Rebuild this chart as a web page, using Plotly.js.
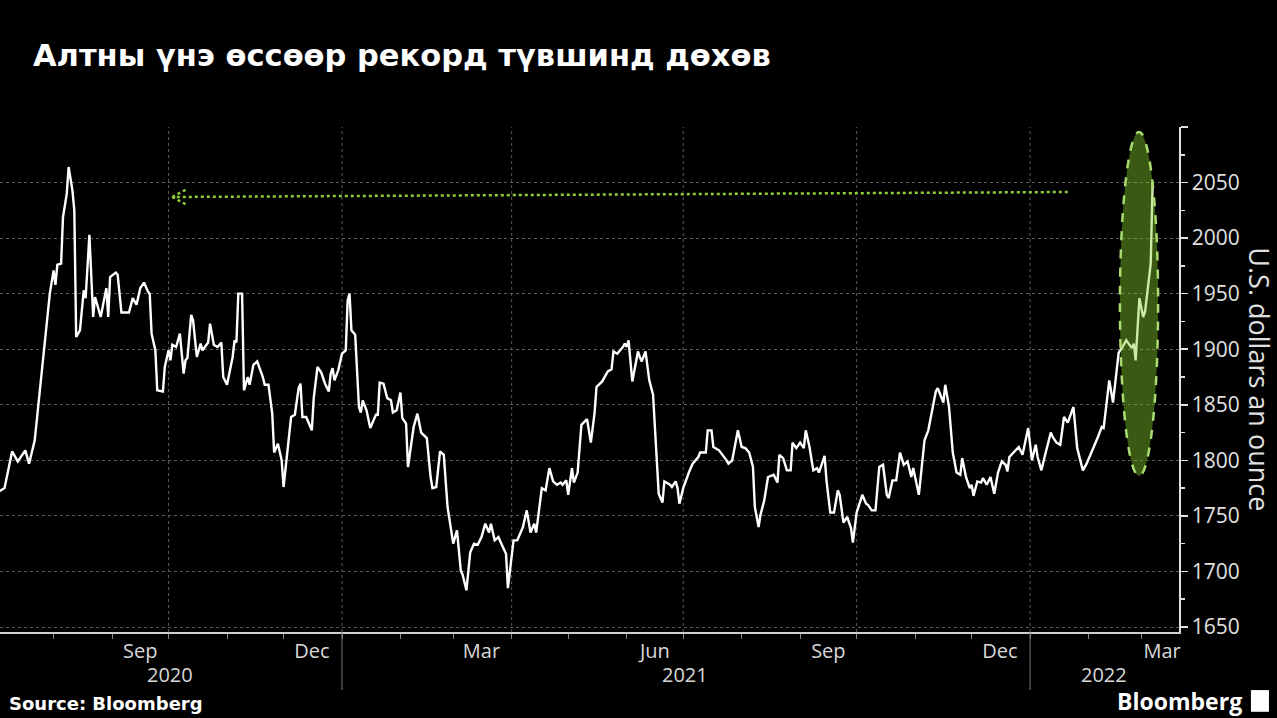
<!DOCTYPE html>
<html>
<head>
<meta charset="utf-8">
<script src="https://cdn.plot.ly/plotly-3.0.1.min.js"></script>
<style>
html,body{margin:0;padding:0;background:#000;}
#chart{width:1277px;height:718px;}
</style>
</head>
<body>
<div id="chart"></div>
<script>
// ---- Data ----
const dates = [
"2020-07-03","2020-07-06","2020-07-10","2020-07-13","2020-07-17","2020-07-19","2020-07-22","2020-07-25","2020-07-27","2020-07-30",
"2020-08-01","2020-08-02","2020-08-03","2020-08-05","2020-08-06","2020-08-08","2020-08-09","2020-08-11","2020-08-12","2020-08-13",
"2020-08-15","2020-08-17","2020-08-18","2020-08-19","2020-08-20","2020-08-22","2020-08-23","2020-08-26","2020-08-29","2020-08-30",
"2020-08-31","2020-09-03","2020-09-04","2020-09-06","2020-09-08","2020-09-10","2020-09-12","2020-09-14","2020-09-16","2020-09-18",
"2020-09-20","2020-09-21","2020-09-22","2020-09-24","2020-09-25","2020-09-28","2020-09-29","2020-10-01","2020-10-02","2020-10-03",
"2020-10-05","2020-10-07","2020-10-09","2020-10-10","2020-10-11","2020-10-13","2020-10-14","2020-10-16","2020-10-18","2020-10-19",
"2020-10-22","2020-10-23","2020-10-25","2020-10-27","2020-10-29","2020-10-30","2020-11-01","2020-11-04","2020-11-05","2020-11-06",
"2020-11-07","2020-11-09","2020-11-10","2020-11-12","2020-11-13","2020-11-15","2020-11-17","2020-11-20","2020-11-21","2020-11-23",
"2020-11-25","2020-11-26","2020-11-28","2020-11-30","2020-12-01","2020-12-03","2020-12-05","2020-12-07","2020-12-09","2020-12-10",
"2020-12-11","2020-12-13","2020-12-16","2020-12-17","2020-12-19","2020-12-21","2020-12-23","2020-12-25","2020-12-26","2020-12-27",
"2020-12-28","2020-12-30",
"2021-01-01","2021-01-03","2021-01-04","2021-01-05","2021-01-06","2021-01-08","2021-01-10","2021-01-11","2021-01-12","2021-01-14",
"2021-01-16","2021-01-19","2021-01-20","2021-01-21","2021-01-23","2021-01-25","2021-01-27","2021-01-28","2021-01-30","2021-02-01",
"2021-02-02","2021-02-04","2021-02-05","2021-02-08","2021-02-10","2021-02-12","2021-02-15","2021-02-17","2021-02-18","2021-02-20",
"2021-02-22","2021-02-24","2021-02-26","2021-03-01","2021-03-03","2021-03-05","2021-03-06","2021-03-08","2021-03-10","2021-03-12",
"2021-03-14","2021-03-16","2021-03-18","2021-03-20","2021-03-21","2021-03-23","2021-03-25","2021-03-26","2021-03-29","2021-03-30",
"2021-04-02","2021-04-04","2021-04-07","2021-04-09","2021-04-11","2021-04-13","2021-04-14","2021-04-17","2021-04-19","2021-04-21",
"2021-04-23","2021-04-25","2021-04-27","2021-04-28","2021-04-30","2021-05-01","2021-05-03","2021-05-04","2021-05-06","2021-05-08",
"2021-05-10","2021-05-11","2021-05-13","2021-05-15","2021-05-16","2021-05-18","2021-05-19","2021-05-22","2021-05-24","2021-05-25",
"2021-05-27","2021-05-30","2021-05-31","2021-06-01","2021-06-02","2021-06-04","2021-06-07","2021-06-08","2021-06-09","2021-06-11",
"2021-06-13","2021-06-15","2021-06-17","2021-06-18","2021-06-20","2021-06-21","2021-06-24","2021-06-25","2021-06-27","2021-06-28",
"2021-06-29","2021-07-01","2021-07-04","2021-07-06","2021-07-09","2021-07-10","2021-07-13","2021-07-14","2021-07-16","2021-07-17",
"2021-07-20","2021-07-22","2021-07-24","2021-07-25","2021-07-27","2021-07-30","2021-08-01","2021-08-03","2021-08-05","2021-08-07",
"2021-08-08","2021-08-10","2021-08-11","2021-08-13","2021-08-15","2021-08-18","2021-08-20","2021-08-21","2021-08-23","2021-08-25",
"2021-08-27","2021-08-28","2021-08-30","2021-09-01","2021-09-03","2021-09-04","2021-09-06","2021-09-08","2021-09-10","2021-09-11",
"2021-09-14","2021-09-15","2021-09-17","2021-09-19","2021-09-21","2021-09-22","2021-09-24","2021-09-26","2021-09-28","2021-09-29",
"2021-10-01","2021-10-04","2021-10-06","2021-10-07","2021-10-09","2021-10-11","2021-10-13","2021-10-15","2021-10-17","2021-10-18",
"2021-10-20","2021-10-22","2021-10-24","2021-10-26","2021-10-28","2021-10-30","2021-10-31","2021-11-03","2021-11-05","2021-11-06",
"2021-11-08","2021-11-10","2021-11-12","2021-11-13","2021-11-16","2021-11-17","2021-11-19","2021-11-21","2021-11-23","2021-11-25",
"2021-11-26","2021-11-28","2021-11-30","2021-12-01","2021-12-02","2021-12-04","2021-12-06","2021-12-07","2021-12-09","2021-12-11",
"2021-12-13","2021-12-15","2021-12-17","2021-12-19","2021-12-20","2021-12-21","2021-12-22","2021-12-24","2021-12-26","2021-12-28",
"2021-12-29","2021-12-31",
"2022-01-02","2022-01-04","2022-01-05","2022-01-07","2022-01-09","2022-01-12","2022-01-13","2022-01-15","2022-01-17","2022-01-19",
"2022-01-21","2022-01-23","2022-01-24","2022-01-26","2022-01-29","2022-01-31","2022-02-02","2022-02-03","2022-02-06","2022-02-08",
"2022-02-09","2022-02-10","2022-02-12","2022-02-14","2022-02-16","2022-02-17","2022-02-19","2022-02-21","2022-02-24","2022-02-25",
"2022-02-26","2022-02-28","2022-03-02","2022-03-03","2022-03-06","2022-03-07"
];
const goldPrice = [
1772,1775,1808,1799,1809,1797,1818,1869,1899,1950,
1971,1958,1976,1977,2019,2040,2064,2043,2025,1911,
1917,1953,1946,1980,2003,1929,1947,1929,1955,1929,
1965,1969,1967,1933,1933,1933,1946,1940,1955,1960,
1952,1950,1914,1899,1863,1862,1884,1899,1890,1904,
1902,1914,1878,1890,1892,1931,1926,1893,1905,1899,
1906,1923,1904,1902,1906,1875,1868,1893,1908,1906,
1950,1950,1863,1875,1868,1886,1889,1875,1868,1868,
1842,1807,1815,1800,1776,1809,1839,1841,1865,1869,
1839,1839,1827,1856,1884,1879,1869,1862,1878,1883,
1872,1881,
1896,1899,1944,1950,1917,1913,1848,1843,1854,1845,
1829,1841,1841,1870,1869,1856,1854,1843,1845,1861,
1838,1833,1794,1830,1842,1825,1820,1785,1775,1776,
1808,1805,1758,1725,1737,1701,1697,1683,1717,1725,
1724,1731,1743,1735,1743,1728,1731,1727,1716,1685,
1728,1728,1740,1755,1735,1743,1735,1775,1773,1793,
1781,1778,1780,1778,1782,1769,1793,1780,1789,1832,
1836,1837,1816,1843,1866,1870,1871,1880,1882,1898,
1896,1902,1905,1902,1908,1871,1898,1893,1889,1898,
1872,1859,1803,1770,1762,1781,1778,1776,1781,1775,
1761,1775,1789,1797,1803,1807,1807,1827,1827,1812,
1809,1805,1800,1797,1800,1827,1812,1811,1807,1794,
1758,1740,1751,1764,1785,1787,1780,1805,1802,1791,
1791,1816,1811,1816,1811,1827,1812,1791,1793,1789,
1804,1782,1753,1753,1773,1769,1744,1749,1739,1726,
1753,1769,1761,1760,1755,1755,1794,1796,1769,1766,
1782,1782,1807,1796,1799,1785,1793,1769,1803,1818,
1827,1845,1862,1865,1852,1868,1848,1807,1789,1787,
1802,1785,1775,1778,1768,1781,1780,1784,1778,1785,
1770,1789,1799,1796,1790,1803,1805,1809,1812,1805,
1814,1829,
1800,1814,1803,1791,1805,1825,1821,1816,1814,1839,
1834,1843,1848,1811,1791,1797,1805,1808,1821,1830,
1829,1843,1872,1852,1881,1897,1902,1908,1901,1905,
1890,1946,1929,1934,1977,2050
];

// Axis / labels
const xRange = ["2020-07-03 14:00", "2022-03-21"];
const yRange = [1645.5, 2100];
const yTickVals = [1650,1700,1750,1800,1850,1900,1950,2000,2050,2100];
const yTickText = ["1650","1700","1750","1800","1850","1900","1950","2000","2050",""];
const monthLabelDates = ["2020-09-16","2020-12-16","2021-03-16","2021-06-16","2021-09-16","2021-12-16","2022-03-12"];
const monthLabels = ["Sep","Dec","Mar","Jun","Sep","Dec","Mar"];
const monthStarts = ["2020-08-01","2020-09-01","2020-10-01","2020-11-01","2020-12-01","2021-01-01","2021-02-01","2021-03-01",
  "2021-04-01","2021-05-01","2021-06-01","2021-07-01","2021-08-01","2021-09-01","2021-10-01","2021-11-01","2021-12-01",
  "2022-01-01","2022-02-01","2022-03-01"];
const quarterStarts = ["2020-10-01","2021-01-01","2021-04-01","2021-07-01","2021-10-01","2022-01-01"];
const yearStarts = ["2021-01-01","2022-01-01"];
const yearLabels = ["2020","2021","2022"];
const yearLabelDates = ["2020-10-02","2021-07-02","2022-02-09"];

// Highlight annotations (ellipse and arrow)
const ellipseX = ["2022-02-17 16:00","2022-03-09 22:00"];
const ellipseY = [1786, 2095.5];
const arrowFrom = {x: "2022-01-21", y: 2041.5};
const arrowTip = {x: "2020-10-03", y: 2037};
const arrowWingX = "2020-10-10";
const arrowWingDy = 6.5;

const title = "Алтны үнэ өссөөр рекорд түвшинд дөхөв";
const yTitle = "U.S. dollars an ounce";
const FONT = "'Open Sans', 'Noto Sans', 'DejaVu Sans', sans-serif";
const BOLDFONT = "'DejaVu Sans', 'Noto Sans', sans-serif";
const green = "#8fcf3a";

const trace = {
  type: "scatter", mode: "lines",
  x: dates, y: goldPrice,
  line: {color: "#ffffff", width: 2.4},
  hoverinfo: "x+y"
};

const shapes = [];
quarterStarts.forEach(d => shapes.push({
  type: "line", xref: "x", yref: "paper", x0: d, x1: d, y0: 0, y1: 1,
  line: {color: "#5a5a5a", width: 1, dash: "dot"}, layer: "below"
}));
yearStarts.forEach(d => shapes.push({
  type: "line", xref: "x", yref: "paper", x0: d, x1: d, y0: 0, y1: -0.115,
  line: {color: "#777", width: 1}
}));
// ellipse
shapes.push({
  type: "circle", xref: "x", yref: "y",
  x0: ellipseX[0], x1: ellipseX[1], y0: ellipseY[0], y1: ellipseY[1],
  fillcolor: "rgba(135,209,47,0.43)",
  line: {color: "#a8dc70", width: 2.5, dash: "dash"}, layer: "above"
});
// dotted arrow
shapes.push({type: "line", xref: "x", yref: "y", x0: arrowFrom.x, y0: arrowFrom.y, x1: arrowTip.x, y1: arrowTip.y,
  line: {color: green, width: 2.5, dash: "dot"}});
shapes.push({type: "line", xref: "x", yref: "y", x0: arrowTip.x, y0: arrowTip.y, x1: arrowWingX, y1: arrowTip.y + arrowWingDy,
  line: {color: green, width: 2.5, dash: "dot"}});
shapes.push({type: "line", xref: "x", yref: "y", x0: arrowTip.x, y0: arrowTip.y, x1: arrowWingX, y1: arrowTip.y - arrowWingDy,
  line: {color: green, width: 2.5, dash: "dot"}});
// Bloomberg logo box
shapes.push({type: "rect", xref: "paper", yref: "paper", x0: 1.0610, x1: 1.0763, y0: -0.115, y1: -0.158,
  fillcolor: "#ffffff", line: {width: 0}});

const annotations = [];
yearLabels.forEach((t, i) => annotations.push({
  text: t, x: yearLabelDates[i], xref: "x", y: -0.085, yref: "paper",
  showarrow: false, xanchor: "center", yanchor: "middle",
  font: {family: FONT, size: 20, color: "#d8d8d8"}
}));
annotations.push({
  text: yTitle, textangle: 90, x: 1.068, xref: "paper", y: 0.5, yref: "paper",
  showarrow: false, xanchor: "center", yanchor: "middle",
  font: {family: FONT, size: 27, color: "#e0e0e0"}
});
annotations.push({
  text: "<b>Source: Bloomberg</b>", x: 0.0059, xref: "paper", y: -0.1406, yref: "paper",
  showarrow: false, xanchor: "left", yanchor: "middle",
  font: {family: BOLDFONT, size: 18, color: "#ffffff"}
});
annotations.push({
  text: "<b>Bloomberg</b>", x: 1.0555, xref: "paper", y: -0.137, yref: "paper",
  showarrow: false, xanchor: "right", yanchor: "middle",
  font: {family: FONT, size: 23, color: "#ffffff"}
});

const layout = {
  width: 1277, height: 718,
  paper_bgcolor: "#000", plot_bgcolor: "#000",
  margin: {l: 0, r: 98, t: 127, b: 86, pad: 0},
  showlegend: false,
  title: {
    text: "<b>" + title + "</b>",
    x: 33/1277, xref: "container", xanchor: "left",
    y: 1 - 55/718, yref: "container", yanchor: "middle",
    font: {family: BOLDFONT, size: 30.5, color: "#ffffff"}
  },
  xaxis: {
    type: "date", range: xRange,
    tickmode: "array", tickvals: monthLabelDates, ticktext: monthLabels,
    ticks: "", showgrid: false, zeroline: false,
    showline: true, linecolor: "#d0d0d0", linewidth: 1.5,
    tickfont: {family: FONT, size: 20, color: "#d8d8d8"},
    minor: {tickmode: "array", tickvals: monthStarts, ticks: "outside", ticklen: 5, tickcolor: "#888", tickwidth: 1, showgrid: false},
    fixedrange: true
  },
  yaxis: {
    side: "right", range: yRange,
    tickmode: "array", tickvals: yTickVals, ticktext: yTickText,
    ticks: "outside", ticklen: 7, tickwidth: 1.5, tickcolor: "#e0e0e0",
    showline: true, linecolor: "#e0e0e0", linewidth: 1.5,
    showgrid: true, gridcolor: "#5a5a5a", gridwidth: 1, griddash: "dot",
    zeroline: false,
    tickfont: {family: FONT, size: 21, color: "#e0e0e0"},
    minor: {tickmode: "linear", tick0: 1675, dtick: 50, ticks: "outside", ticklen: 4, tickcolor: "#e0e0e0", showgrid: false},
    fixedrange: true
  },
  shapes: shapes,
  annotations: annotations
};

Plotly.newPlot("chart", [trace], layout, {displayModeBar: false, staticPlot: true});
</script>
</body>
</html>
